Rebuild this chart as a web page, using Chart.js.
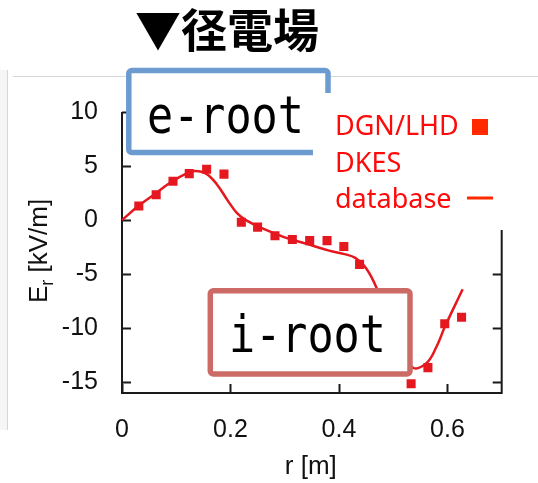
<!DOCTYPE html>
<html>
<head>
<meta charset="utf-8">
<script src="https://cdn.jsdelivr.net/npm/chart.js@4/dist/chart.umd.min.js"></script>
<style>
  html, body { margin: 0; padding: 0; background: #ffffff; }
  #wrap { width: 538px; height: 483px; }
</style>
</head>
<body>
<div id="wrap"><canvas id="c" width="538" height="483"></canvas></div>
<script>
// Measured radial electric field (DGN/LHD), r in m, Er in kV/m
const radius = [0.031, 0.063, 0.094, 0.124, 0.156, 0.188, 0.220, 0.250, 0.282, 0.314, 0.346, 0.378, 0.409, 0.438, 0.533, 0.564, 0.595, 0.626];
const erMeasured = [1.3, 2.35, 3.6, 4.3, 4.7, 4.25, -0.2, -0.65, -1.45, -1.8, -1.9, -1.9, -2.45, -4.1, -15.15, -13.65, -9.6, -9.0];

// DKES database prediction
const dkesRadius = [0, 0.03, 0.06, 0.09, 0.12, 0.135, 0.155, 0.175, 0.195, 0.212, 0.23, 0.26, 0.30, 0.34, 0.38, 0.41, 0.43, 0.45, 0.47, 0.50, 0.535, 0.56, 0.58, 0.595, 0.628];
const dkesEr = [0, 1.3, 2.4, 3.5, 4.35, 4.55, 4.3, 3.3, 1.8, 0.65, -0.05, -0.8, -1.6, -2.2, -2.8, -3.15, -3.5, -4.45, -6.35, -10.5, -13.6, -13.3, -11.7, -9.9, -6.4];

// Axis ticks
const xTicks = [0, 0.2, 0.4, 0.6];
const yTicks = [-15, -10, -5, 0, 5, 10];

const titleText = '▼径電場';
const legendLines = ['DGN/LHD', 'DKES', 'database'];

const RED_PTS = '#e5171f';
const RED_TXT = '#ff0a0a';
const AXIS = '#1a1a1a';

function pair(xs, ys) { return xs.map((x, i) => ({ x: x, y: ys[i] })); }

const decor = {
  id: 'decor',
  beforeDraw(chart) {
    const ctx = chart.ctx;
    ctx.save();
    // faint slide rules behind the figure
    ctx.strokeStyle = '#d6d6d6';
    ctx.lineWidth = 1;
    ctx.beginPath();
    ctx.moveTo(13, 76.5); ctx.lineTo(538, 76.5);
    ctx.moveTo(7.5, 70); ctx.lineTo(7.5, 430);
    ctx.stroke();
    ctx.fillStyle = '#f6f6f6';
    ctx.fillRect(0, 70, 7, 360);
    ctx.restore();
  },
  beforeDatasetsDraw(chart) {
    const ctx = chart.ctx;
    const a = chart.chartArea;
    const xs = chart.scales.x, ys = chart.scales.y;
    const tl = 9;
    ctx.save();
    ctx.strokeStyle = AXIS;
    ctx.lineWidth = 2;
    ctx.beginPath();
    ctx.moveTo(a.left, a.top); ctx.lineTo(a.left, a.bottom); ctx.lineTo(a.right, a.bottom); ctx.lineTo(a.right, a.top);
    yTicks.forEach(v => {
      const py = Math.round(ys.getPixelForValue(v)) + 0.5;
      ctx.moveTo(a.left, py); ctx.lineTo(a.left + tl, py);
      ctx.moveTo(a.right, py); ctx.lineTo(a.right - tl, py);
    });
    xTicks.forEach(v => {
      const px = Math.round(xs.getPixelForValue(v)) + 0.5;
      ctx.moveTo(px, a.bottom); ctx.lineTo(px, a.bottom - tl);
    });
    ctx.stroke();
    ctx.restore();
  },
  afterDraw(chart) {
    const ctx = chart.ctx;
    const a = chart.chartArea;
    ctx.save();

    // Title
    ctx.fillStyle = '#000';
    ctx.font = 'bold 46px "Noto Sans CJK JP"';
    ctx.textAlign = 'left';
    ctx.textBaseline = 'alphabetic';
    ctx.fillText(titleText, 135, 47);

    // Axis titles
    ctx.fillStyle = '#111';
    ctx.font = '26px "Liberation Sans"';
    ctx.textAlign = 'center';
    ctx.textBaseline = 'middle';
    ctx.fillText('r [m]', (a.left + a.right) / 2 - 1, 467);

    ctx.save();
    ctx.translate(38, 251);
    ctx.rotate(-Math.PI / 2);
    const big = '26px "Liberation Sans"', small = '18px "Liberation Sans"';
    ctx.font = big; const wE = ctx.measureText('E').width;
    const wRest = ctx.measureText(' [kV/m]').width;
    ctx.font = small; const wr = ctx.measureText('r').width;
    let x0 = -(wE + wr + wRest) / 2;
    ctx.textAlign = 'left';
    ctx.textBaseline = 'alphabetic';
    ctx.font = big; ctx.fillText('E', x0, 9);
    ctx.font = small; ctx.fillText('r', x0 + wE, 15);
    ctx.font = big; ctx.fillText(' [kV/m]', x0 + wE + wr, 9);
    ctx.restore();

    // e-root / i-root frames
    function frame(x0, y0, x1, y1, color) {
      ctx.beginPath();
      ctx.roundRect(x0, y0, x1 - x0, y1 - y0, 3);
      ctx.fillStyle = '#fff';
      ctx.fill();
      ctx.lineWidth = 5.5;
      ctx.strokeStyle = color;
      ctx.stroke();
    }
    frame(128.8, 70.5, 328, 152.5, '#6b9bcf');
    frame(210.3, 290.8, 410, 374, '#cc6b66');

    ctx.fillStyle = '#000';
    ctx.font = '43px "DejaVu Sans Mono"';
    ctx.textAlign = 'left';
    ctx.textBaseline = 'alphabetic';
    ctx.save(); ctx.translate(147, 133); ctx.scale(1.01, 1.18); ctx.fillText('e-root', 0, 0); ctx.restore();
    ctx.save(); ctx.translate(229, 352); ctx.scale(1.01, 1.18); ctx.fillText('i-root', 0, 0); ctx.restore();

    // Legend block
    ctx.fillStyle = '#fff';
    ctx.fillRect(313, 93, 225, 137);
    ctx.fillStyle = RED_TXT;
    ctx.font = '27px "Noto Sans"';
    ctx.fillText(legendLines[0], 335, 135);
    ctx.fillText(legendLines[1], 335, 171.5);
    ctx.fillText(legendLines[2], 335, 208);
    ctx.fillStyle = '#ff2a00';
    ctx.fillRect(472, 119, 16, 16);
    ctx.fillRect(467, 196.5, 26, 3);

    ctx.restore();
  }
};

new Chart(document.getElementById('c'), {
  type: 'scatter',
  data: {
    datasets: [
      {
        label: 'DKES database',
        data: pair(dkesRadius, dkesEr),
        showLine: true,
        borderColor: RED_PTS,
        borderWidth: 2.5,
        pointRadius: 0,
        tension: 0.4,
        fill: false
      },
      {
        label: 'DGN/LHD',
        data: pair(radius, erMeasured),
        pointStyle: 'rect',
        pointRadius: 6.4,
        pointBorderWidth: 0,
        backgroundColor: RED_PTS,
        borderColor: RED_PTS
      }
    ]
  },
  options: {
    responsive: false,
    animation: false,
    devicePixelRatio: 1,
    layout: { padding: { left: 0, right: 36.3, top: 112, bottom: 0 } },
    plugins: { legend: { display: false }, tooltip: { enabled: false }, title: { display: false } },
    scales: {
      x: {
        type: 'linear',
        min: 0, max: 0.7,
        grid: { display: false },
        border: { display: false },
        afterBuildTicks: s => { s.ticks = xTicks.map(v => ({ value: v })); },
        afterFit: s => { s.height = 90; },
        ticks: {
          padding: 14,
          color: '#111',
          font: { family: '"Liberation Sans"', size: 25 },
          maxRotation: 0,
          callback: v => String(v)
        }
      },
      y: {
        type: 'linear',
        min: -16, max: 10,
        grid: { display: false },
        border: { display: false },
        afterBuildTicks: s => { s.ticks = yTicks.map(v => ({ value: v })); },
        afterFit: s => { s.width = 122; },
        ticks: {
          padding: 16,
          color: '#111',
          font: { family: '"Liberation Sans"', size: 25 },
          callback: v => String(v)
        }
      }
    }
  },
  plugins: [decor]
});
</script>
</body>
</html>
